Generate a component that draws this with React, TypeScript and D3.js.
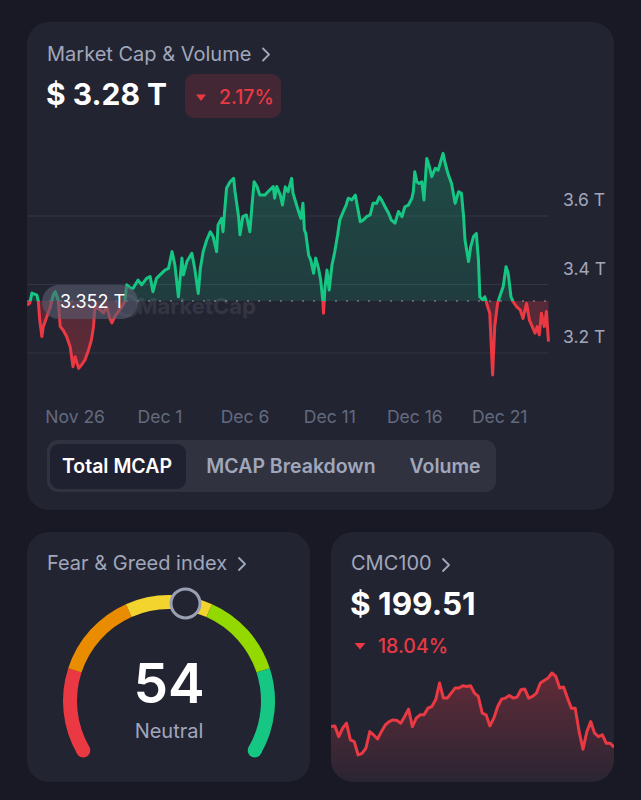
import React from "react";
import * as d3 from "d3";

const W = 641;
const H = 800;

// Market cap series: hours since the first sample, value in trillions USD
const mcapStart = new Date(2024, 10, 23, 4);
const mcapHours = [
  0, 4, 7, 14, 16, 18, 21, 23, 28, 33, 37, 40, 44, 47, 51, 56, 61, 65, 68, 73,
  77, 82, 87, 91, 94, 96, 103, 108, 113, 117, 120, 124, 129, 134, 138, 141, 146, 150, 157, 162,
  169, 174, 178, 183, 188, 195, 200, 205, 209, 214, 219, 221, 226, 233, 237, 242, 245, 249, 254, 259,
  263, 268, 270, 275, 277, 280, 282, 287, 292, 294, 296, 299, 301, 305, 310, 313, 315, 318, 321, 325,
  329, 336, 343, 348, 350, 353, 358, 361, 365, 369, 374, 376, 381, 383, 387, 390, 392, 394, 398, 401,
  405, 408, 412, 415, 418, 419, 421, 424, 427, 431, 435, 439, 442, 447, 451, 454, 459, 464, 467, 471,
  475, 480, 485, 489, 494, 498, 501, 506, 511, 515, 520, 525, 530, 534, 539, 544, 546, 548, 551, 554,
  558, 561, 565, 568, 572, 577, 581, 588, 591, 595, 600, 605, 610, 614, 617, 619, 624, 627, 631, 635,
  638, 640, 644, 647, 651, 654, 658, 661, 665, 668, 673, 677, 680, 684, 687, 692, 697, 701, 706, 710,
  713, 718, 721, 724, 727, 731, 734, 737,
];
const mcapValues = [
  3.340, 3.346, 3.375, 3.369, 3.350, 3.296, 3.248, 3.277, 3.306, 3.335, 3.369, 3.379, 3.355, 3.277, 3.267, 3.248, 3.218, 3.160, 3.189, 3.155,
  3.165, 3.180, 3.209, 3.238, 3.277, 3.335, 3.326, 3.317, 3.335, 3.302, 3.288, 3.306, 3.321, 3.335, 3.350, 3.399, 3.390, 3.389, 3.413, 3.399,
  3.418, 3.423, 3.379, 3.418, 3.428, 3.442, 3.447, 3.496, 3.457, 3.364, 3.477, 3.428, 3.467, 3.491, 3.447, 3.374, 3.447, 3.496, 3.530, 3.554,
  3.540, 3.496, 3.574, 3.593, 3.554, 3.632, 3.681, 3.700, 3.710, 3.671, 3.642, 3.598, 3.545, 3.598, 3.603, 3.574, 3.554, 3.632, 3.700, 3.686,
  3.661, 3.661, 3.676, 3.686, 3.652, 3.686, 3.661, 3.632, 3.685, 3.671, 3.710, 3.666, 3.632, 3.618, 3.593, 3.637, 3.559, 3.549, 3.486, 3.472,
  3.433, 3.477, 3.447, 3.413, 3.355, 3.316, 3.389, 3.442, 3.384, 3.457, 3.496, 3.545, 3.588, 3.613, 3.632, 3.652, 3.647, 3.661, 3.627, 3.583,
  3.588, 3.598, 3.603, 3.637, 3.637, 3.656, 3.647, 3.627, 3.608, 3.588, 3.579, 3.613, 3.598, 3.627, 3.632, 3.652, 3.671, 3.729, 3.700, 3.695,
  3.700, 3.647, 3.768, 3.749, 3.715, 3.739, 3.734, 3.783, 3.754, 3.723, 3.695, 3.637, 3.671, 3.666, 3.598, 3.530, 3.467, 3.510, 3.540, 3.549,
  3.472, 3.364, 3.355, 3.364, 3.335, 3.316, 3.136, 3.277, 3.345, 3.364, 3.394, 3.452, 3.433, 3.364, 3.350, 3.335, 3.326, 3.301, 3.345, 3.296,
  3.282, 3.258, 3.277, 3.253, 3.316, 3.277, 3.321, 3.233,
];
const mcapBaseline = 3.352;
const mcapYTicks = [3.2, 3.4, 3.6];
const mcapXTicks = [
  new Date(2024, 10, 26),
  new Date(2024, 11, 1),
  new Date(2024, 11, 6),
  new Date(2024, 11, 11),
  new Date(2024, 11, 16),
  new Date(2024, 11, 21),
];
const tabs = ["Total MCAP", "MCAP Breakdown", "Volume"];

// CMC100 sparkline
const cmcValues = [
  210.78, 211.16, 205.31, 209.9, 212.64, 203.5, 202.57, 195.3, 196.23, 198.96,
  208.04, 206.24, 204.05, 208.04, 211.71, 213.51, 214.44, 214.06, 212.64, 216.25,
  220.3, 210.78, 215.37, 217.18, 217.18, 220.84, 221.72, 225.38, 234.52, 226.31,
  226.31, 229.05, 231.78, 231.78, 233.04, 232.66, 233.04, 229.05, 227.19, 218.11,
  217.18, 211.16, 215.37, 221.72, 225.77, 226.31, 227.74, 226.31, 226.86, 230.85,
  231.24, 226.31, 227.19, 229.05, 234.52, 235.94, 237.25, 239.99, 238.13, 231.78,
  232.33, 226.31, 220.84, 220.84, 208.04, 198.42, 208.04, 213.51, 207.17, 205.31,
  206.24, 201.7, 201.7, 199.51,
];

// Fear & Greed gauge
const gaugeBreaks = [0, 20, 40, 60, 80, 100];
const gaugeColors = ["#ea3943", "#ea8c00", "#f3d42f", "#93d900", "#16c784"];
const fearGreedValue = 54;
const fearGreedLabel = "Neutral";

const FONT = "Inter, 'Noto Sans', sans-serif";
const PAGE_BG = "#181924";
const CARD_BG = "#222432";
const GREEN = "#16c784";
const RED = "#ea3943";
const MUTED = "#a1a7bb";

const Chevron = ({ x, y }: { x: number; y: number }) => (
  <path d={`M${x},${y - 6} L${x + 6},${y} L${x},${y + 6}`} fill="none" stroke={MUTED} strokeWidth={1.8} strokeLinecap="round" strokeLinejoin="round" />
);

const MarketCapCard = () => {
  const card = { x: 27, y: 22, w: 587, h: 488, r: 22 };
  const plot = { left: 27, right: 548.5, top: 216, bottom: 353 };

  const points = mcapHours.map((h, i) => ({
    t: new Date(mcapStart.getTime() + h * 3600e3),
    v: mcapValues[i],
  }));

  const x = d3
    .scaleTime()
    .domain(d3.extent(points, (d) => d.t) as [Date, Date])
    .range([plot.left, plot.right]);
  const y = d3.scaleLinear().domain([3.2, 3.6]).range([plot.bottom, plot.top]);
  const y0 = y(mcapBaseline);

  const line = d3
    .line<{ t: Date; v: number }>()
    .x((d) => x(d.t))
    .y((d) => y(d.v));
  const area = d3
    .area<{ t: Date; v: number }>()
    .x((d) => x(d.t))
    .y0(y0)
    .y1((d) => y(d.v));

  const fmt = d3.timeFormat("%b %-d");
  const tabCenters = [117, 291, 445];

  return (
    <g>
      <defs>
        <clipPath id="mcCard">
          <rect x={card.x} y={card.y} width={card.w} height={card.h} rx={card.r} />
        </clipPath>
        <clipPath id="mcAbove">
          <rect x={0} y={0} width={W} height={y0} />
        </clipPath>
        <clipPath id="mcBelow">
          <rect x={0} y={y0} width={W} height={H - y0} />
        </clipPath>
        <linearGradient id="greenFill" x1="0" y1="0" x2="0" y2="1">
          <stop offset="0%" stopColor={GREEN} stopOpacity={0.24} />
          <stop offset="100%" stopColor={GREEN} stopOpacity={0.1} />
        </linearGradient>
        <linearGradient id="redFill" x1="0" y1="0" x2="0" y2="1">
          <stop offset="0%" stopColor={RED} stopOpacity={0.18} />
          <stop offset="100%" stopColor={RED} stopOpacity={0.3} />
        </linearGradient>
      </defs>
      <rect x={card.x} y={card.y} width={card.w} height={card.h} rx={card.r} fill={CARD_BG} />

      <text x={47} y={61} fill={MUTED} fontSize={20} fontFamily={FONT}>
        Market Cap &amp; Volume
      </text>
      <Chevron x={263} y={54.5} />
      <text x={46} y={105} fill="#fff" fontSize={30} fontWeight={700} fontFamily={FONT}>
        $ 3.28 T
      </text>
      <rect x={185} y={74} width={96} height={44} rx={9} fill={RED} fillOpacity={0.17} />
      <path d="M196,94.5 L206,94.5 L201,101 Z" fill={RED} />
      <text x={219} y={104} fill={RED} fontSize={19.5} fontWeight={500} fontFamily={FONT}>
        2.17%
      </text>

      {mcapYTicks.map((t) => (
        <g key={t}>
          <line x1={plot.left} x2={plot.right} y1={y(t)} y2={y(t)} stroke="#fff" strokeOpacity={0.08} />
          <text x={563} y={y(t) - 10} fill={MUTED} fontSize={17.5} fontFamily={FONT}>
            {`${t.toFixed(1)} T`}
          </text>
        </g>
      ))}

      <g clipPath="url(#mcCard)">
        <path d={area(points) || ""} fill="url(#greenFill)" clipPath="url(#mcAbove)" />
        <path d={area(points) || ""} fill="url(#redFill)" clipPath="url(#mcBelow)" />
        <g opacity={0.08} fill="#fff">
          <circle cx={128} cy={306} r={10} fill="none" stroke="#fff" strokeWidth={3} />
          <text x={137} y={314} fontSize={22} fontWeight={700} fontFamily={FONT}>
            MarketCap
          </text>
        </g>
        <line x1={plot.left} x2={plot.right} y1={y0} y2={y0} stroke="#fff" strokeOpacity={0.35} strokeWidth={1.5} strokeDasharray="2 9" />
        <g clipPath="url(#mcAbove)">
          <path d={line(points) || ""} fill="none" stroke={GREEN} strokeWidth={3} strokeLinejoin="round" />
        </g>
        <g clipPath="url(#mcBelow)">
          <path d={line(points) || ""} fill="none" stroke={RED} strokeWidth={3} strokeLinejoin="round" />
        </g>
      </g>

      <rect x={42} y={285} width={96} height={34} rx={17} fill="#5a5e70" fillOpacity={0.6} />
      <text x={60} y={308} fill="#fff" fontSize={18} fontFamily={FONT}>
        {`${mcapBaseline} T`}
      </text>

      {mcapXTicks.map((d) => (
        <text key={d.getTime()} x={x(d)} y={423} textAnchor="middle" fill="#646a7e" fontSize={17.5} fontFamily={FONT}>
          {fmt(d)}
        </text>
      ))}

      <rect x={47} y={440} width={449} height={52} rx={11} fill="#30323f" />
      <rect x={50} y={444} width={136} height={45} rx={9} fill="#1f2130" />
      {tabs.map((t, i) => (
        <text
          key={t}
          x={tabCenters[i]}
          y={473}
          textAnchor="middle"
          fill={i === 0 ? "#fff" : MUTED}
          fontSize={19.5}
          fontWeight={600}
          fontFamily={FONT}
        >
          {t}
        </text>
      ))}
    </g>
  );
};

const FearGreedCard = () => {
  const card = { x: 27, y: 532, w: 283, h: 250, r: 22 };
  const cx = 169;
  const cy = 701;
  const radius = 99;
  const angle = d3.scaleLinear().domain([0, 100]).range([(-2 * Math.PI) / 3, (2 * Math.PI) / 3]);
  const arc = d3.arc<{ a0: number; a1: number }>()
    .innerRadius(radius - 7)
    .outerRadius(radius + 7)
    .startAngle((d) => d.a0)
    .endAngle((d) => d.a1);
  const pos = (v: number) => [cx + radius * Math.sin(angle(v)), cy - radius * Math.cos(angle(v))];
  const [sx, sy] = pos(0);
  const [ex, ey] = pos(100);
  const [mx, my] = pos(fearGreedValue);

  return (
    <g>
      <rect x={card.x} y={card.y} width={card.w} height={card.h} rx={card.r} fill={CARD_BG} />
      <text x={47} y={570} fill={MUTED} fontSize={20} fontFamily={FONT}>
        Fear &amp; Greed index
      </text>
      <Chevron x={239} y={564} />
      <g transform={`translate(${cx},${cy})`}>
        {gaugeColors.map((c, i) => (
          <path key={c} d={arc({ a0: angle(gaugeBreaks[i]), a1: angle(gaugeBreaks[i + 1]) }) || ""} fill={c} />
        ))}
      </g>
      <circle cx={sx} cy={sy} r={7} fill={gaugeColors[0]} />
      <circle cx={ex} cy={ey} r={7} fill={gaugeColors[gaugeColors.length - 1]} />
      <circle cx={mx} cy={my} r={14.5} fill={CARD_BG} stroke="#9aa0b4" strokeWidth={3} />
      <text x={cx} y={703} textAnchor="middle" fill="#fff" fontSize={55} fontWeight={600} fontFamily={FONT}>
        {fearGreedValue}
      </text>
      <text x={cx} y={738} textAnchor="middle" fill={MUTED} fontSize={20} fontFamily={FONT}>
        {fearGreedLabel}
      </text>
    </g>
  );
};

const Cmc100Card = () => {
  const card = { x: 331, y: 532, w: 283, h: 250, r: 22 };
  const x = d3.scaleLinear().domain([0, cmcValues.length - 1]).range([card.x, card.x + card.w]);
  const y = d3
    .scaleLinear()
    .domain(d3.extent(cmcValues) as [number, number])
    .range([755, 673]);
  const line = d3
    .line<number>()
    .x((_, i) => x(i))
    .y((d) => y(d));
  const area = d3
    .area<number>()
    .x((_, i) => x(i))
    .y0(card.y + card.h)
    .y1((d) => y(d));

  return (
    <g>
      <defs>
        <clipPath id="cmcCard">
          <rect x={card.x} y={card.y} width={card.w} height={card.h} rx={card.r} />
        </clipPath>
        <linearGradient id="cmcFill" x1="0" y1="0" x2="0" y2="1">
          <stop offset="0%" stopColor={RED} stopOpacity={0.32} />
          <stop offset="100%" stopColor={RED} stopOpacity={0.04} />
        </linearGradient>
      </defs>
      <rect x={card.x} y={card.y} width={card.w} height={card.h} rx={card.r} fill={CARD_BG} />
      <text x={351} y={570} fill={MUTED} fontSize={20} fontFamily={FONT}>
        CMC100
      </text>
      <Chevron x={443} y={565} />
      <text x={350} y={615} fill="#fff" fontSize={31.5} fontWeight={700} fontFamily={FONT}>
        $ 199.51
      </text>
      <path d="M354.5,643 L365.5,643 L360,649.5 Z" fill={RED} />
      <text x={378} y={653} fill={RED} fontSize={19.5} fontWeight={500} fontFamily={FONT}>
        18.04%
      </text>
      <g clipPath="url(#cmcCard)">
        <path d={area(cmcValues) || ""} fill="url(#cmcFill)" />
        <path d={line(cmcValues) || ""} fill="none" stroke={RED} strokeWidth={3} strokeLinejoin="round" />
      </g>
    </g>
  );
};

export default function App() {
  return (
    <svg width={W} height={H} style={{ position: "absolute", left: 0, top: 0, display: "block" }}>
      <rect x={0} y={0} width={W} height={H} fill={PAGE_BG} />
      <MarketCapCard />
      <FearGreedCard />
      <Cmc100Card />
    </svg>
  );
}
